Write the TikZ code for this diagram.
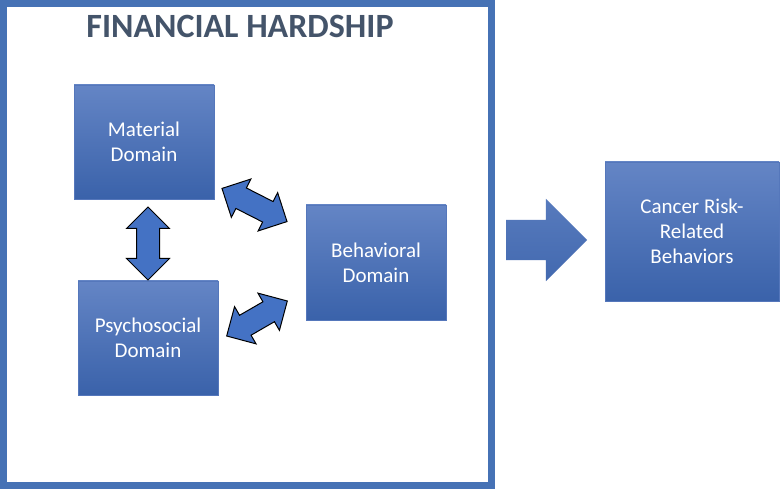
\documentclass[tikz,border=0pt]{standalone}
\usepackage{fontspec}
\setmainfont{Carlito}
\usetikzlibrary{shapes.arrows}

\definecolor{frameblue}{HTML}{4672B5}
\definecolor{titlegray}{HTML}{44546A}
\definecolor{boxtop}{HTML}{6485C5}
\definecolor{boxbot}{HTML}{3A62AA}
\definecolor{boxedge}{HTML}{5577BB}
\definecolor{arrowblue}{HTML}{4472C4}

\begin{document}
\begin{tikzpicture}[x=1pt,y=-1pt,
    domainbox/.style={draw=boxedge,line width=0.8pt,top color=boxtop,bottom color=boxbot,
        text=white,font=\fontsize{21}{25}\selectfont,align=center,
        minimum width=140pt,minimum height=114pt,inner sep=0pt},
    twoway/.style={double arrow,draw=black,line width=1pt,fill=arrowblue,
        inner xsep=0pt,inner ysep=11pt,double arrow head extend=10pt},
    bigarrow/.style={single arrow,top color=boxtop!70!boxbot,bottom color=boxbot!80!boxtop,
        minimum height=81pt,inner xsep=0pt,inner ysep=20pt,single arrow head extend=21pt}]
    \useasboundingbox (0,0) rectangle (780,489);
    \fill[white] (0,0) rectangle (780,489);

    % outer frame
    \draw[frameblue,line width=7pt] (3.5,3.5) rectangle (491.5,485.5);
    \node[anchor=base,text=titlegray,font=\fontsize{34}{40}\selectfont\bfseries] (title) at (240,38) {FINANCIAL HARDSHIP};

    \node[domainbox] (material) at (144,142) {Material\\Domain};
    \node[domainbox] (psycho) at (148,338) {Psychosocial\\Domain};
    \node[domainbox,minimum height=115pt] (behav) at (376,262.5) {Behavioral\\Domain};
    \node[domainbox,minimum width=174pt,minimum height=139pt] (cancer) at (692,231.5) {Cancer Risk-\\Related\\Behaviors};

    % block arrows
    \node[twoway,minimum height=73pt,rotate=90] (matpsy) at (148,243.5) {};
    \node[twoway,minimum height=73pt,rotate=-27] (matbeh) at (254.5,205) {};
    \node[twoway,minimum height=70pt,rotate=30] (psybeh) at (257,318.5) {};
    \node[bigarrow] (toresult) at (536.5,240) {};
\end{tikzpicture}
\end{document}
